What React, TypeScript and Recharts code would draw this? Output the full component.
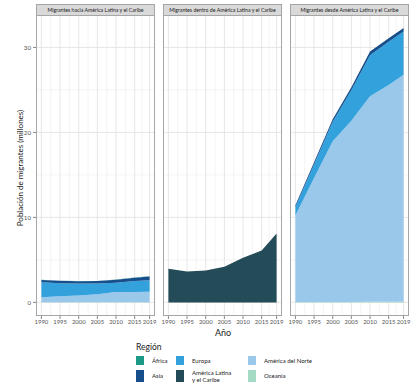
import React from 'react';
import { AreaChart, Area, XAxis, YAxis, CartesianGrid } from 'recharts';

const YEARS = [1990, 1995, 2000, 2005, 2010, 2015, 2019];
const X_TICKS = [1990, 1995, 2000, 2005, 2010, 2015, 2019];
const X_MINOR = [1992.5, 1997.5, 2002.5, 2007.5, 2012.5, 2017];
const Y_TICKS = [0, 10, 20, 30];
const Y_MINOR = [5, 15, 25];

// Migrantes hacia América Latina y el Caribe (millones)
const HACIA_NORTE = [0.6, 0.7, 0.8, 0.95, 1.2, 1.2, 1.25];
const HACIA_EUROPA = [1.75, 1.55, 1.4, 1.25, 1.1, 1.3, 1.35];
const HACIA_ASIA = [0.28, 0.28, 0.28, 0.3, 0.35, 0.4, 0.45];
const HACIA_AFRICA = [0.02, 0.02, 0.02, 0.02, 0.03, 0.03, 0.03];
const HACIA_OCEANIA = [0.01, 0.01, 0.01, 0.01, 0.01, 0.01, 0.01];

// Migrantes dentro de América Latina y el Caribe
const DENTRO_ALC = [3.95, 3.65, 3.75, 4.2, 5.25, 6.1, 8.1];

// Migrantes desde América Latina y el Caribe
const DESDE_NORTE = [10.2, 14.6, 18.9, 21.3, 24.2, 25.5, 26.7];
const DESDE_EUROPA = [1.0, 1.6, 2.3, 3.6, 4.8, 5.1, 5.1];
const DESDE_ASIA = [0.2, 0.25, 0.3, 0.35, 0.45, 0.4, 0.4];
const DESDE_AFRICA = [0.01, 0.01, 0.01, 0.01, 0.01, 0.01, 0.01];
const DESDE_OCEANIA = [0.03, 0.04, 0.05, 0.06, 0.07, 0.08, 0.08];

const REGIONS = ['África', 'Asia', 'Europa', 'América Latina y el Caribe', 'América del Norte', 'Oceanía'];
const COLORS: Record<string, string> = {
  'África': '#1b9a88',
  'Asia': '#174e8c',
  'Europa': '#33a1dc',
  'América Latina y el Caribe': '#244b58',
  'América del Norte': '#9ac8eb',
  'Oceanía': '#a3dbc4',
};

// stacking order bottom -> top (ggplot puts first level on top)
const STACK = ['Oceanía', 'América del Norte', 'América Latina y el Caribe', 'Europa', 'Asia', 'África'];

const zeros = YEARS.map(() => 0);

const buildRows = (series: Record<string, number[]>) =>
  YEARS.map((year, i) => {
    const row: Record<string, number> = { year };
    REGIONS.forEach(r => {
      row[r] = (series[r] || zeros)[i];
    });
    return row;
  });

const PANELS = [
  {
    title: 'Migrantes hacia América Latina y el Caribe',
    data: buildRows({
      'África': HACIA_AFRICA,
      'Asia': HACIA_ASIA,
      'Europa': HACIA_EUROPA,
      'América del Norte': HACIA_NORTE,
      'Oceanía': HACIA_OCEANIA,
    }),
  },
  {
    title: 'Migrantes dentro de América Latina y el Caribe',
    data: buildRows({ 'América Latina y el Caribe': DENTRO_ALC }),
  },
  {
    title: 'Migrantes desde América Latina y el Caribe',
    data: buildRows({
      'África': DESDE_AFRICA,
      'Asia': DESDE_ASIA,
      'Europa': DESDE_EUROPA,
      'América del Norte': DESDE_NORTE,
      'Oceanía': DESDE_OCEANIA,
    }),
  },
];

const PANEL_LEFT = [36, 163, 290];
const PANEL_W = 119;
const PAD = 7;
const PLOT_TOP = 16;
const PLOT_H = 300;
const FONT = 'Lato, "Open Sans", sans-serif';
const TICK_COLOR = '#555555';

const LEGEND = [
  { name: 'África', label: ['África'], x: 136, y: 356, h: 9 },
  { name: 'Asia', label: ['Asia'], x: 136, y: 370, h: 12 },
  { name: 'Europa', label: ['Europa'], x: 176, y: 356, h: 9 },
  { name: 'América Latina y el Caribe', label: ['América Latina', 'y el Caribe'], x: 176, y: 370, h: 12 },
  { name: 'América del Norte', label: ['América del Norte'], x: 248, y: 356, h: 9 },
  { name: 'Oceanía', label: ['Oceanía'], x: 248, y: 370, h: 12 },
];

const Panel: React.FC<{ idx: number }> = ({ idx }) => {
  const p = PANELS[idx];
  const first = idx === 0;
  const width = first ? PANEL_LEFT[0] + PANEL_W + PAD : PANEL_W + 2 * PAD;
  return (
    <AreaChart
      width={width}
      height={PLOT_TOP + PLOT_H + 24}
      data={p.data}
      margin={{ top: PLOT_TOP, right: PAD, bottom: 0, left: first ? 0 : PAD }}
    >
      <CartesianGrid stroke="#ececec" strokeWidth={0.6} horizontalValues={Y_MINOR} verticalValues={X_MINOR} />
      <CartesianGrid stroke="#e0e0e0" strokeWidth={0.8} horizontalValues={Y_TICKS} verticalValues={X_TICKS} />
      <XAxis
        dataKey="year"
        type="number"
        domain={[1988.55, 2020.45]}
        ticks={X_TICKS}
        interval={0}
        height={24}
        axisLine={false}
        stroke={TICK_COLOR}
        tickLine={{ stroke: '#555', strokeWidth: 0.7 }}
        tickSize={3}
        tickMargin={1}
        tick={{ fontSize: 5.9, fill: TICK_COLOR, fontFamily: FONT }}
        allowDataOverflow
      />
      <YAxis
        hide={!first}
        width={36}
        type="number"
        domain={[-1.6, 33.7]}
        ticks={Y_TICKS}
        interval={0}
        axisLine={false}
        stroke={TICK_COLOR}
        tickLine={{ stroke: '#555', strokeWidth: 0.7 }}
        tickSize={3}
        tickMargin={2}
        tick={{ fontSize: 6.2, fill: TICK_COLOR, fontFamily: FONT }}
        allowDataOverflow
      />
      {STACK.map(r => (
        <Area
          key={r}
          dataKey={r}
          stackId="a"
          type="linear"
          fill={COLORS[r]}
          fillOpacity={1}
          stroke="none"
          isAnimationActive={false}
        />
      ))}
    </AreaChart>
  );
};

export default function App() {
  return (
    <div
      style={{
        position: 'absolute',
        left: 0,
        top: 0,
        width: 414,
        height: 388,
        background: '#fff',
        fontFamily: FONT,
        overflow: 'hidden',
      }}
    >
      {PANELS.map((p, i) => (
        <React.Fragment key={p.title}>
          <div style={{ position: 'absolute', left: i === 0 ? 0 : PANEL_LEFT[i] - PAD, top: 0 }}>
            <Panel idx={i} />
          </div>
          <div
            style={{
              position: 'absolute',
              left: PANEL_LEFT[i],
              top: 4,
              width: PANEL_W,
              height: 12,
              boxSizing: 'border-box',
              background: '#d9d9d9',
              border: '1px solid #a6a6a6',
              fontSize: 5.2,
              color: '#1a1a1a',
              textAlign: 'center',
              lineHeight: '10px',
              whiteSpace: 'nowrap',
            }}
          >
            {p.title}
          </div>
          <div
            style={{
              position: 'absolute',
              left: PANEL_LEFT[i],
              top: PLOT_TOP - 1,
              width: PANEL_W,
              height: PLOT_H + 1,
              boxSizing: 'border-box',
              border: '1px solid #a6a6a6',
              borderTop: 'none',
              pointerEvents: 'none',
            }}
          />
        </React.Fragment>
      ))}

      <div
        style={{
          position: 'absolute',
          left: 20,
          top: 168,
          transform: 'translate(-50%, -50%) rotate(-90deg)',
          fontSize: 8,
          color: '#1a1a1a',
          whiteSpace: 'nowrap',
        }}
      >
        Población de migrantes (millones)
      </div>

      <div style={{ position: 'absolute', left: 215, top: 327, fontSize: 9, color: '#1a1a1a' }}>Año</div>

      <div style={{ position: 'absolute', left: 136, top: 342, fontSize: 8.5, color: '#1a1a1a' }}>Región</div>

      {LEGEND.map(l => (
        <React.Fragment key={l.name}>
          <div
            style={{
              position: 'absolute',
              left: l.x,
              top: l.y,
              width: 8,
              height: l.h,
              background: COLORS[l.name],
            }}
          />
          <div
            style={{
              position: 'absolute',
              left: l.x + 16,
              top: l.y + l.h / 2,
              transform: 'translateY(-50%)',
              fontSize: 6,
              lineHeight: '6.5px',
              color: '#1a1a1a',
              whiteSpace: 'nowrap',
            }}
          >
            {l.label.map(t => (
              <div key={t}>{t}</div>
            ))}
          </div>
        </React.Fragment>
      ))}
    </div>
  );
}
